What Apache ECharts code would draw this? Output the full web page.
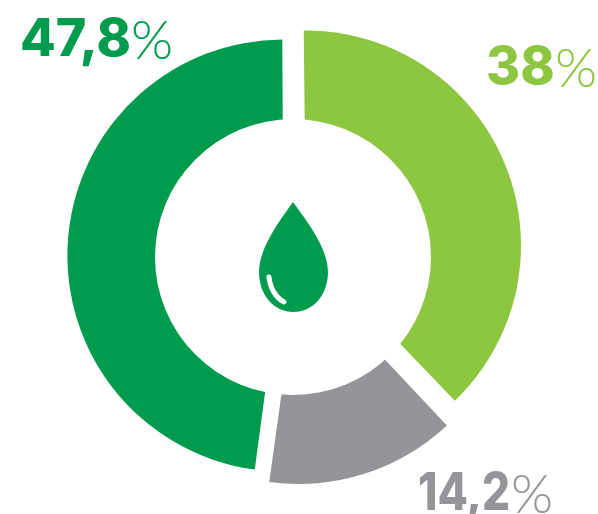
<!DOCTYPE html>
<html><head><meta charset="utf-8">
<style>html,body{margin:0;padding:0;background:#fff}#c{width:598px;height:514px}</style>
<script src="https://cdn.jsdelivr.net/npm/echarts@6/dist/echarts.min.js"></script>
</head><body><div id="c"></div>
<script>
const sliceNames = ['Segment A', 'Segment B', 'Segment C'];
const sliceValues = [38, 14.2, 47.8];
const sliceLabels = ['38', '14,2', '47,8'];
const sliceColors = ['#8DC63F', '#939598', '#009B4D'];

const chart = echarts.init(document.getElementById('c'), null, {renderer:'canvas'});
const pieGeom = [
  {center:[306,245.5], r:215, start:90.6},
  {center:[299,268], r:216, start:90},
  {center:[283.4,255.5], r:216, start:90.3}
];
const labelPos = [
  {x:486, y:42, sx:1, px:555},
  {x:418, y:468, sx:0.85, px:511},
  {x:20, y:14, sx:1, px:131}
];
const pies = pieGeom.map((g,i)=>({
  type:'pie', center:g.center, radius:[0,g.r], startAngle:g.start, clockwise:true,
  silent:true, animation:false, z:2, label:{show:false}, labelLine:{show:false},
  data: sliceValues.map((v,j)=>({name:sliceNames[j], value:v,
    itemStyle:{color: j===i ? sliceColors[j] : 'rgba(0,0,0,0)'}}))
}));
const dropIcon = {
  type:'custom', coordinateSystem:'none', silent:true, animation:false, z:11, data:[[0]],
  renderItem:()=>({type:'group', children:[
    {type:'path', shape:{pathData:'M293,202 C281,219 259,247 259,272 C259,295 274,312 293.5,312 C313,312 328,295 328,272 C328,247 305,219 293,202 Z', layout:'cover', x:259,y:202,width:69,height:110}, style:{fill:'#009B4D'}},
    {type:'path', shape:{pathData:'M269,277 C270,288 276,298 284,302', layout:'cover', x:269,y:277,width:15,height:25}, style:{fill:'none',stroke:'#fff',lineWidth:5,lineCap:'round'}}
  ]})
};
const labels = sliceLabels.flatMap((t,i)=>{
  const p = labelPos[i], c = sliceColors[i];
  return [
    {type:'text', x:p.x, y:p.y, scaleX:p.sx, z:20,
     style:{text:t, fill:c, fontFamily:'Inter', fontWeight:800, fontSize:52}},
    {type:'text', x:p.px, y:p.y+1, z:20,
     style:{text:'%', fill:c, fontFamily:'Lato', fontWeight:300, fontSize:54}}
  ];
});
chart.setOption({
  backgroundColor:'#fff', animation:false,
  series:[...pies, dropIcon],
  graphic:{elements:[
    {type:'circle', shape:{cx:293,cy:257,r:138}, style:{fill:'#fff'}, z:10},
    ...labels
  ]}
});
</script></body></html>
